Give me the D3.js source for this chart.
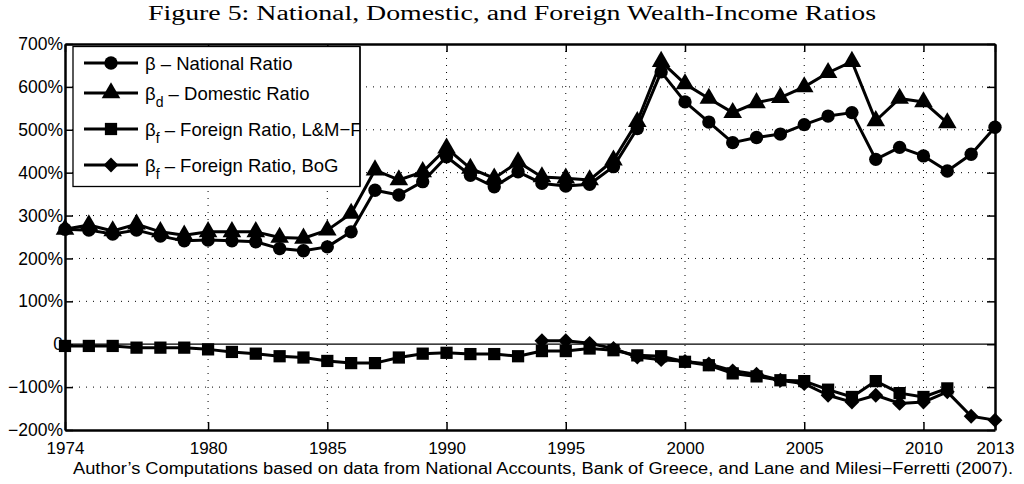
<!DOCTYPE html>
<html><head><meta charset="utf-8">
<script src="https://cdn.jsdelivr.net/npm/d3@7"></script>
<style>body{margin:0;background:#fff}svg{display:block}</style>
</head><body>
<svg id="c" width="1024" height="484"></svg>
<script>
const years = d3.range(1974, 2014);
const national = [268,266,257,266,252,241,243,241,239,223,218,227,262,359,348,379,437,394,367,402,375,369,373,414,503,635,565,518,470,482,490,512,532,540,431,459,439,404,443,506];
const domestic = [268,278,264,280,262,254,262,262,262,249,247,266,305,406,383,402,457,410,387,425,390,387,383,429,519,659,607,573,540,563,575,600,633,659,521,573,565,516];
const foreignLMF = [-4,-4,-4,-8,-8,-8,-12,-18,-22,-28,-31,-39,-44,-44,-31,-22,-20,-23,-23,-28,-16,-16,-10,-14,-26,-28,-41,-49,-68,-75,-84,-86,-106,-123,-86,-114,-123,-103];
const bogYears = d3.range(1994, 2014);
const foreignBoG = [8,8,2,-10,-30,-36,-40,-46,-62,-70,-84,-92,-119,-135,-119,-138,-135,-111,-168,-177];
const yTicks = [-200,-100,0,100,200,300,400,500,600,700];
const yTickLabels = ["−200%","−100%","0","100%","200%","300%","400%","500%","600%","700%"];
const xTicks = [1974,1980,1985,1990,1995,2000,2005,2010,2013];
const xGrid = [1980,1985,1990,1995,2000,2005,2010];
const title = "Figure 5: National, Domestic, and Foreign Wealth-Income Ratios";
const footer = "Author\u2019s Computations based on data from National Accounts, Bank of Greece, and Lane and Milesi\u2212Ferretti (2007).";

const svg = d3.select("#c");
const L = 65, R = 995, T = 44, B = 430;
const x = d3.scaleLinear().domain([1974, 2013]).range([L, R]);
const y = d3.scaleLinear().domain([-200, 700]).range([B, T]);

svg.append("text").attr("x", 512).attr("y", 20).attr("text-anchor", "middle")
  .attr("font-family", "Liberation Serif, serif").attr("font-size", 20)
  .attr("textLength", 728).attr("lengthAdjust", "spacingAndGlyphs").text(title);

// grid
const g = svg.append("g");
g.selectAll(".gx").data(xGrid).join("line")
  .attr("x1", d => x(d)).attr("x2", d => x(d)).attr("y1", T).attr("y2", B)
  .attr("stroke", "#000").attr("stroke-width", 1).attr("stroke-dasharray", "1,6");
g.selectAll(".gy").data(yTicks.filter(d => d !== 0 && d !== -200 && d !== 700)).join("line")
  .attr("y1", d => y(d)).attr("y2", d => y(d)).attr("x1", L).attr("x2", R)
  .attr("stroke", "#000").attr("stroke-width", 1).attr("stroke-dasharray", "1,6");
g.append("line").attr("x1", L).attr("x2", R).attr("y1", y(0)).attr("y2", y(0))
  .attr("stroke", "#000").attr("stroke-width", 1.2);

// axes
const axL = d3.axisLeft(y).tickValues(yTicks).tickFormat((d, i) => yTickLabels[i]).tickSizeInner(-8).tickSizeOuter(0).tickPadding(2);
const axR = d3.axisRight(y).tickValues(yTicks).tickFormat("").tickSizeInner(-8).tickSizeOuter(0);
const axB = d3.axisBottom(x).tickValues(xTicks).tickFormat(d3.format("d")).tickSizeInner(-8).tickSizeOuter(0).tickPadding(12);
const axT = d3.axisTop(x).tickValues(xTicks).tickFormat("").tickSizeInner(-8).tickSizeOuter(0);
function style(sel, fs){
  sel.selectAll("path").attr("stroke", "#000").attr("stroke-width", 2.5);
  sel.selectAll("line").attr("stroke", "#000").attr("stroke-width", 1.5);
  sel.selectAll("text").attr("fill", "#000").attr("font-family", "Liberation Sans, Arial, sans-serif").attr("font-size", fs);
}
svg.append("g").attr("transform", `translate(${L},0)`).call(axL).call(style, 17.5);
svg.append("g").attr("transform", `translate(${R},0)`).call(axR).call(style, 17.5);
svg.append("g").attr("transform", `translate(0,${B})`).call(axB).call(style, 17);
svg.append("g").attr("transform", `translate(0,${T})`).call(axT).call(style, 17);

const series = [
  {name:"national", xs: years, ys: national, sym: d3.symbolCircle, size: 140, rot: 0},
  {name:"domestic", xs: years, ys: domestic, sym: d3.symbolTriangle, size: 150, rot: 0},
  {name:"lmf", xs: years, ys: foreignLMF, sym: d3.symbolSquare, size: 150, rot: 0},
  {name:"bog", xs: bogYears, ys: foreignBoG, sym: d3.symbolSquare, size: 110, rot: 45},
];
const line = d3.line().x(d => x(d[0])).y(d => y(d[1]));
series.forEach(s => {
  const pts = s.ys.map((v, i) => [s.xs[i], v]);
  svg.append("path").datum(pts).attr("d", line).attr("fill", "none")
    .attr("stroke", "#000").attr("stroke-width", 3).attr("stroke-linejoin", "round");
  svg.append("g").selectAll("path").data(pts).join("path")
    .attr("d", d3.symbol().type(s.sym).size(s.size))
    .attr("transform", d => `translate(${x(d[0])},${y(d[1])}) rotate(${s.rot})`)
    .attr("fill", "#000");
});

// legend
const lg = svg.append("g");
lg.append("rect").attr("x", 73).attr("y", 46.5).attr("width", 287).attr("height", 140)
  .attr("fill", "#fff").attr("stroke", "#000").attr("stroke-width", 1.3);
const legItems = [
  {base:"β", sub:"", rest:" – National Ratio", s: series[0], yy: 63},
  {base:"β", sub:"d", rest:" – Domestic Ratio", s: series[1], yy: 93},
  {base:"β", sub:"f", rest:" – Foreign Ratio, L&M−F", s: series[2], yy: 129},
  {base:"β", sub:"f", rest:" – Foreign Ratio, BoG", s: series[3], yy: 165},
];
svg.append("clipPath").attr("id", "lc").append("rect").attr("x", 73).attr("y", 46).attr("width", 287).attr("height", 141);
legItems.forEach(it => {
  lg.append("line").attr("x1", 84).attr("x2", 138).attr("y1", it.yy).attr("y2", it.yy)
    .attr("stroke", "#000").attr("stroke-width", 3);
  lg.append("path").attr("d", d3.symbol().type(it.s.sym).size(it.s.size))
    .attr("transform", `translate(111,${it.yy}) rotate(${it.s.rot})`).attr("fill", "#000");
  const t = lg.append("text").attr("x", 145).attr("y", it.yy + 6.5).attr("clip-path", "url(#lc)")
    .attr("font-family", "Liberation Sans, Arial, sans-serif").attr("font-size", 18.5);
  t.append("tspan").text(it.base);
  if (it.sub) t.append("tspan").attr("dy", 7).attr("font-size", 14).text(it.sub);
  t.append("tspan").attr("dy", it.sub ? -7 : 0).text(it.rest);
});
lg.append("line").attr("x1", 360).attr("x2", 360).attr("y1", 46.5).attr("y2", 186.5).attr("stroke", "#000").attr("stroke-width", 1.3);

svg.append("text").attr("x", 543).attr("y", 474).attr("text-anchor", "middle")
  .attr("font-family", "Liberation Sans, Arial, sans-serif").attr("font-size", 16)
  .attr("textLength", 940).attr("lengthAdjust", "spacingAndGlyphs").text(footer);
</script>
</body></html>
